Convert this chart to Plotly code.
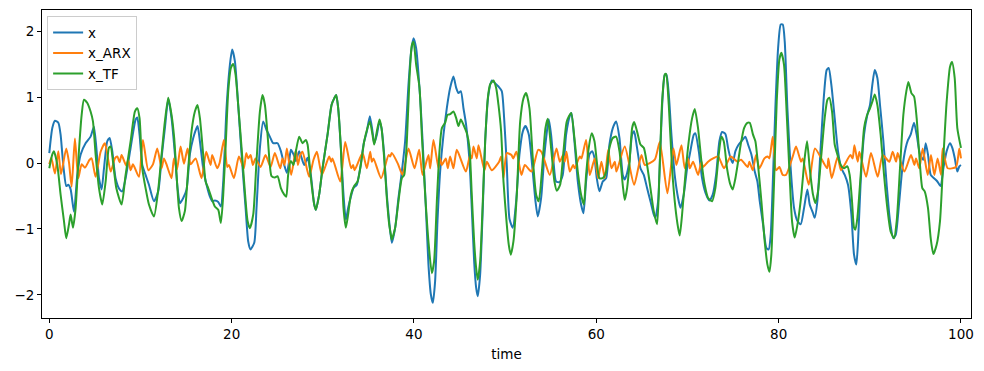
import plotly.graph_objects as go

# ---- data (time, value) ----
x_series = [
    (0, 0.15), (0.33, 0.53), (0.62, 0.64), (0.99, 0.61), (1.24, 0.43), (1.43, 0.13), (1.61, -0.13), (1.86, -0.35),
    (2.08, -0.33), (2.34, -0.4), (2.71, -0.74), (3.07, -0.18), (3.44, 0.13), (3.98, 0.3), (4.53, 0.4), (4.9, 0.55),
    (5.45, -0.23), (5.74, -0.4), (6.0, -0.08), (6.36, 0.33), (6.62, 0.38), (6.91, 0.18), (7.27, -0.23), (7.71, -0.4),
    (8.0, -0.43), (8.37, -0.23), (8.92, 0.23), (9.47, 0.66), (9.65, 0.69), (9.9, 0.43), (10.2, -0.03), (10.56, -0.18),
    (10.93, -0.33), (11.48, -0.58), (11.95, -0.43), (12.32, 0.08), (12.68, 0.53), (13.05, 0.97), (13.41, 0.68),
    (13.78, 0.13), (14.07, -0.38), (14.33, -0.61), (14.69, -0.53), (15.06, -0.4), (15.42, 0.13), (15.79, 0.38),
    (16.26, 0.56), (16.52, 0.33), (16.88, -0.08), (17.25, -0.33), (17.62, -0.51), (17.87, -0.58), (18.16, -0.57),
    (18.53, -0.59), (18.82, -0.66), (19.08, -0.28), (19.44, 0.83), (19.81, 1.49), (20.06, 1.72), (20.36, 1.54),
    (20.72, 0.88), (21.09, 0.13), (21.53, -0.68), (21.82, -1.19), (22.07, -1.31), (22.48, -1.21), (22.73, -0.68),
    (23.1, 0.23), (23.46, 0.63), (23.83, 0.5), (24.19, 0.4), (24.56, 0.3), (25.04, 0.3), (25.4, 0.18), (25.77, -0.03),
    (26.06, -0.15), (26.31, 0.03), (26.5, 0.2), (26.79, 0.13), (27.05, 0.03), (27.41, 0.18), (27.96, -0.03),
    (28.33, 0.08), (28.69, -0.18), (29.06, -0.63), (29.24, -0.71), (29.6, -0.48), (29.97, -0.08), (30.52, 0.43),
    (30.96, 0.88), (31.25, 0.98), (31.47, 1.03), (31.69, 0.83), (31.98, 0.23), (32.27, -0.48), (32.53, -0.86),
    (32.78, -0.68), (33.08, -0.51), (33.37, -0.38), (33.73, -0.33), (34.1, -0.08), (34.47, 0.28), (34.83, 0.48),
    (35.16, 0.71), (35.45, 0.48), (35.64, 0.3), (35.93, 0.43), (36.22, 0.63), (36.44, 0.53), (36.73, 0.13),
    (37.02, -0.48), (37.28, -0.88), (37.57, -1.21), (37.94, -0.98), (38.3, -0.53), (38.67, -0.13), (39.03, 0.33),
    (39.4, 1.19), (39.69, 1.69), (39.95, 1.89), (40.24, 1.74), (40.5, 1.34), (40.75, 0.83), (41.04, 0.08),
    (41.34, -0.78), (41.59, -1.54), (41.85, -1.99), (42.07, -2.12), (42.32, -1.79), (42.58, -0.88), (42.87, -0.13),
    (43.24, 0.43), (43.6, 0.83), (43.97, 1.14), (44.33, 1.31), (44.63, 1.14), (44.88, 1.06), (45.14, 1.09),
    (45.43, 0.83), (45.72, 0.58), (46.09, 0.03), (46.34, -0.68), (46.6, -1.49), (46.82, -1.89), (47.0, -2.02),
    (47.26, -1.69), (47.55, -0.68), (47.81, 0.33), (48.17, 1.04), (48.54, 1.25), (48.9, 1.21), (49.27, 1.16),
    (49.63, 1.09), (49.89, 0.68), (50.18, -0.03), (50.48, -0.85), (50.84, -0.98), (51.21, -0.58), (51.57, 0.13),
    (51.94, 0.48), (52.23, 0.56), (52.6, 0.43), (52.96, -0.03), (53.33, -0.58), (53.58, -0.81), (53.95, -0.53),
    (54.31, 0.13), (54.68, 0.58), (54.79, 0.66), (55.04, 0.43), (55.3, 0.03), (55.59, -0.28), (55.96, -0.29),
    (56.32, -0.18), (56.69, 0.43), (57.13, 0.73), (57.27, 0.76), (57.6, 0.33), (57.97, -0.28), (58.33, -0.63),
    (58.59, -0.76), (58.88, -0.28), (59.25, 0.13), (59.54, 0.18), (59.8, 0.08), (60.05, -0.23), (60.34, -0.43),
    (60.71, -0.28), (61.08, -0.23), (61.44, 0.28), (61.81, 0.53), (62.17, 0.63), (62.54, 0.38), (62.9, -0.18),
    (63.12, -0.25), (63.38, -0.15), (63.63, 0.03), (63.93, 0.43), (64.15, 0.48), (64.47, 0.23), (64.84, -0.08),
    (65.21, -0.18), (65.57, -0.38), (65.94, -0.58), (66.3, -0.78), (66.48, -0.83), (66.78, -0.58), (67.03, 0.23),
    (67.29, 1.04), (67.51, 1.34), (67.69, 1.34), (67.95, 1.04), (68.24, 0.43), (68.6, -0.18), (68.97, -0.53),
    (69.23, -0.68), (69.59, -0.48), (69.96, -0.08), (70.32, 0.18), (70.69, 0.43), (70.87, 0.45), (71.24, 0.18),
    (71.6, -0.23), (71.97, -0.45), (72.41, -0.57), (72.77, -0.48), (73.14, -0.18), (73.5, 0.33), (73.8, 0.47),
    (74.16, 0.44), (74.45, 0.23), (74.71, 0.08), (74.96, 0.0), (75.26, 0.18), (75.62, 0.28), (75.92, 0.33),
    (76.35, 0.4), (76.65, 0.28), (77.01, 0.13), (77.38, -0.13), (77.67, -0.28), (77.93, -0.58), (78.29, -0.93),
    (78.66, -1.29), (78.91, -1.31), (79.13, -1.09), (79.39, -0.18), (79.64, 0.83), (79.94, 1.74), (80.23, 2.1),
    (80.45, 2.1), (80.67, 1.84), (80.96, 0.83), (81.32, -0.08), (81.69, -0.68), (82.06, -0.88), (82.42, -0.93),
    (82.79, -0.68), (83.15, -0.4), (83.41, -0.63), (83.77, -0.76), (83.96, -0.83), (84.25, -0.58), (84.61, 0.23),
    (84.98, 1.04), (85.27, 1.41), (85.49, 1.44), (85.78, 1.19), (86.15, 0.68), (86.51, 0.18), (86.88, -0.08),
    (87.25, -0.18), (87.61, -0.33), (87.98, -0.78), (88.27, -1.39), (88.52, -1.54), (88.71, -1.19), (89.0, -0.28),
    (89.37, 0.43), (89.73, 0.73), (90.02, 0.88), (90.28, 1.19), (90.54, 1.41), (90.83, 1.29), (91.12, 0.88),
    (91.49, 0.33), (91.85, -0.33), (92.22, -0.88), (92.58, -1.14), (92.84, -1.09), (93.2, -0.63), (93.57, -0.08),
    (93.94, 0.23), (94.19, 0.35), (94.48, 0.43), (94.85, 0.61), (95.14, 0.43), (95.51, 0.13), (95.87, 0.05),
    (96.13, 0.3), (96.38, 0.13), (96.68, -0.18), (97.04, -0.23), (97.41, -0.28), (97.77, -0.35), (98.07, -0.08),
    (98.43, 0.18), (98.8, 0.3), (99.05, 0.23), (99.31, 0.08), (99.6, -0.13), (99.82, -0.05), (100.0, -0.03),
]

x_arx_series = [
    (0.0, -0.02), (0.22, 0.08), (0.62, -0.16), (0.99, 0.18), (1.28, -0.17), (1.86, 0.22), (2.16, 0.01), (2.45, -0.36),
    (2.81, 0.37), (3.18, -0.23), (3.55, -0.02), (3.91, -0.07), (4.42, 0.05), (4.64, 0.07), (5.08, -0.21), (5.63, 0.17),
    (6.1, 0.3), (6.73, -0.13), (7.2, 0.07), (7.46, 0.1), (7.71, 0.01), (7.93, 0.12), (8.44, -0.04), (8.66, 0.05),
    (8.92, -0.11), (9.18, -0.02), (9.83, -0.21), (10.27, 0.35), (10.86, -0.11), (11.37, -0.02), (11.84, 0.22),
    (12.32, -0.08), (12.57, 0.07), (12.83, -0.01), (13.41, -0.23), (13.67, 0.07), (14.0, -0.1), (14.4, 0.25),
    (14.77, -0.01), (15.17, 0.22), (15.5, -0.02), (16.05, 0.07), (16.7, -0.23), (17.21, 0.17), (17.69, -0.03),
    (17.87, 0.12), (18.42, -0.08), (18.68, 0.0), (19.15, 0.35), (19.52, -0.06), (19.7, -0.03), (20.25, -0.23),
    (20.8, 0.1), (21.34, -0.08), (21.6, 0.15), (21.82, 0.07), (22.08, 0.12), (22.33, -0.03), (22.62, 0.07),
    (23.17, -0.06), (23.72, 0.12), (24.27, -0.06), (24.74, 0.15), (25.33, -0.08), (25.58, 0.07), (25.8, -0.03),
    (26.06, 0.22), (26.53, -0.18), (27.05, 0.2), (27.27, -0.03), (27.52, 0.12), (27.78, 0.17), (28.51, -0.21),
    (28.98, 0.05), (29.35, 0.17), (29.9, -0.18), (30.7, 0.1), (30.92, 0.02), (31.07, 0.07), (31.91, -0.28),
    (32.46, 0.32), (33.11, -0.08), (33.33, -0.03), (33.48, -0.11), (34.36, 0.15), (34.83, -0.08), (35.2, 0.17),
    (35.38, 0.02), (35.56, 0.07), (36.4, -0.23), (37.21, 0.12), (37.39, 0.1), (37.57, 0.15), (38.23, -0.01),
    (38.74, -0.18), (39.4, 0.22), (40.06, -0.08), (40.57, 0.2), (40.94, -0.18), (41.59, 0.12), (41.78, -0.08),
    (42.14, 0.35), (42.69, -0.08), (42.87, 0.07), (43.05, -0.03), (43.49, 0.07), (43.71, -0.08), (43.97, 0.1),
    (44.33, -0.08), (44.7, 0.2), (45.69, -0.13), (46.16, 0.12), (46.34, 0.07), (46.53, 0.25), (46.89, 0.07),
    (47.08, 0.27), (47.73, -0.11), (47.99, 0.02), (48.54, -0.11), (49.34, 0.02), (49.56, 0.1), (49.82, -0.23),
    (50.18, 0.15), (50.7, 0.12), (50.88, 0.07), (51.24, 0.17), (51.79, -0.18), (52.16, -0.03), (52.89, -0.13),
    (53.62, 0.2), (53.98, 0.17), (54.9, -0.18), (55.63, 0.22), (56.0, 0.02), (56.36, 0.12), (56.54, 0.02),
    (56.73, 0.17), (57.09, -0.13), (57.46, -0.03), (57.64, -0.08), (58.19, 0.1), (58.37, 0.07), (58.88, 0.35),
    (59.28, -0.18), (59.83, 0.07), (60.2, -0.23), (60.56, 0.02), (60.93, -0.23), (61.3, 0.2), (61.66, -0.08),
    (62.03, 0.02), (62.21, -0.13), (63.12, 0.25), (64.15, -0.33), (64.95, 0.12), (65.32, -0.03), (66.41, 0.05),
    (66.96, 0.32), (67.8, -0.46), (68.46, 0.22), (68.79, -0.03), (69.34, 0.27), (69.7, -0.08), (70.07, 0.07),
    (70.25, -0.08), (70.62, 0.02), (71.16, -0.18), (71.53, 0.02), (71.71, -0.06), (72.26, 0.02), (72.81, 0.07),
    (73.36, 0.1), (74.01, -0.08), (74.75, 0.1), (75.48, 0.02), (75.88, 0.05), (76.61, -0.06), (76.79, 0.02),
    (77.16, -0.11), (77.52, 0.12), (77.89, -0.08), (78.44, 0.07), (78.8, 0.1), (78.99, 0.07), (79.35, 0.4),
    (79.72, -0.11), (80.08, -0.06), (80.45, -0.18), (80.81, -0.18), (81.55, 0.1), (81.91, 0.25), (82.46, 0.02),
    (82.64, 0.07), (83.3, -0.33), (83.99, 0.22), (85.31, -0.08), (85.46, 0.07), (85.82, -0.23), (86.48, 0.1),
    (86.84, -0.11), (87.87, 0.12), (88.12, 0.07), (88.31, 0.27), (88.67, 0.02), (88.86, 0.17), (89.59, -0.21),
    (90.13, 0.15), (90.87, -0.21), (91.41, 0.12), (92.14, 0.02), (92.51, 0.17), (92.88, 0.02), (93.06, 0.15),
    (93.79, -0.13), (94.52, 0.12), (94.89, -0.03), (95.07, 0.07), (95.43, -0.08), (95.8, 0.22), (96.35, -0.18),
    (96.71, 0.12), (97.08, -0.18), (97.44, 0.07), (97.81, -0.18), (97.99, 0.22), (98.54, -0.08), (99.45, -0.06),
    (99.82, 0.22), (100.0, 0.07),
]

x_tf_series = [
    (0, -0.08), (0.33, 0.13), (0.51, 0.18), (0.88, -0.03), (1.24, -0.48), (1.61, -0.88), (1.86, -1.14), (2.16, -0.93),
    (2.34, -0.78), (2.6, -0.98), (2.89, -0.68), (3.25, 0.18), (3.55, 0.73), (3.8, 0.96), (4.17, 0.91), (4.53, 0.78),
    (4.79, 0.63), (5.08, 0.13), (5.45, -0.38), (5.81, -0.63), (6.18, -0.28), (6.54, 0.23), (6.73, 0.25), (6.98, 0.03),
    (7.35, -0.38), (7.93, -0.63), (8.37, -0.18), (8.92, 0.33), (9.39, 0.78), (9.65, 0.83), (9.9, 0.68), (10.2, -0.08),
    (10.56, -0.38), (10.93, -0.63), (11.48, -0.81), (11.95, -0.4), (12.32, 0.13), (12.68, 0.63), (13.05, 0.99),
    (13.41, 0.73), (13.7, 0.38), (13.96, -0.18), (14.22, -0.68), (14.51, -0.88), (14.87, -0.73), (15.24, -0.08),
    (15.6, 0.48), (15.97, 0.78), (16.26, 0.88), (16.52, 0.68), (16.88, 0.13), (17.14, -0.28), (17.43, -0.38),
    (17.8, -0.53), (18.16, -0.66), (18.53, -0.71), (18.82, -0.91), (19.08, -0.48), (19.37, 0.33), (19.63, 1.09),
    (19.92, 1.44), (20.17, 1.5), (20.43, 1.34), (20.72, 0.88), (21.09, 0.23), (21.45, -0.43), (21.75, -0.88),
    (22.0, -0.99), (22.37, -0.78), (22.73, 0.03), (23.1, 0.78), (23.39, 1.03), (23.65, 0.88), (23.94, 0.43),
    (24.19, -0.03), (24.38, -0.2), (24.74, -0.22), (25.04, -0.2), (25.4, -0.38), (25.77, -0.48), (25.99, -0.51),
    (26.2, -0.18), (26.5, 0.03), (26.79, -0.03), (27.05, 0.18), (27.41, 0.4), (27.78, 0.3), (28.14, 0.35),
    (28.33, 0.28), (28.69, -0.23), (29.06, -0.63), (29.24, -0.71), (29.6, -0.48), (29.97, -0.08), (30.52, 0.43),
    (30.96, 0.88), (31.25, 0.98), (31.47, 1.03), (31.69, 0.83), (31.98, 0.23), (32.27, -0.68), (32.53, -0.98),
    (32.78, -0.78), (33.08, -0.48), (33.44, -0.35), (33.81, -0.28), (34.17, -0.03), (34.54, 0.33), (34.9, 0.53),
    (35.16, 0.63), (35.45, 0.43), (35.64, 0.28), (35.93, 0.48), (36.22, 0.66), (36.44, 0.53), (36.73, 0.08),
    (37.02, -0.53), (37.28, -0.93), (37.54, -1.14), (37.57, -1.16), (37.94, -0.98), (38.3, -0.58), (38.67, -0.23),
    (38.93, -0.18), (39.22, 0.33), (39.51, 1.29), (39.77, 1.79), (39.95, 1.84), (40.24, 1.49), (40.61, 1.14),
    (40.86, 0.43), (41.23, -0.48), (41.59, -1.19), (41.96, -1.67), (42.21, -1.49), (42.51, -0.58), (42.8, 0.18),
    (43.06, 0.53), (43.42, 0.61), (43.68, 0.73), (43.97, 0.74), (44.33, 0.78), (44.63, 0.68), (44.88, 0.56),
    (45.14, 0.66), (45.43, 0.58), (45.8, 0.45), (46.09, 0.23), (46.34, -0.48), (46.6, -1.19), (46.82, -1.59),
    (47.0, -1.77), (47.26, -1.49), (47.55, -0.58), (47.81, 0.33), (48.1, 0.98), (48.35, 1.19), (48.72, 1.25),
    (49.01, 1.14), (49.27, 0.88), (49.56, 0.48), (49.82, -0.28), (50.18, -0.93), (50.4, -1.24), (50.62, -1.39),
    (50.91, -1.19), (51.28, -0.48), (51.65, 0.63), (52.01, 0.98), (52.3, 1.06), (52.67, 0.83), (53.03, 0.08),
    (53.4, -0.48), (53.69, -0.58), (54.06, -0.08), (54.42, 0.53), (54.68, 0.67), (55.04, 0.23), (55.41, -0.28),
    (55.67, -0.42), (56.03, -0.33), (56.4, 0.18), (56.76, 0.63), (57.24, 0.76), (57.6, 0.38), (57.97, -0.13),
    (58.33, -0.48), (58.63, -0.63), (58.88, -0.18), (59.17, 0.23), (59.5, 0.45), (59.8, 0.33), (60.05, 0.03),
    (60.34, -0.23), (60.71, -0.23), (61.08, -0.13), (61.44, 0.23), (61.81, 0.38), (62.17, 0.4), (62.54, 0.18),
    (62.9, -0.33), (63.12, -0.56), (63.38, -0.38), (63.63, -0.03), (63.93, 0.53), (64.15, 0.62), (64.47, 0.48),
    (64.84, 0.28), (65.21, 0.23), (65.57, -0.03), (65.94, -0.38), (66.3, -0.73), (66.67, -0.93), (66.92, -0.18),
    (67.22, 0.93), (67.51, 1.34), (67.65, 1.35), (67.95, 0.88), (68.31, -0.08), (68.68, -0.68), (68.97, -0.98),
    (69.15, -1.1), (69.41, -0.78), (69.77, -0.18), (70.14, 0.33), (70.51, 0.68), (70.8, 0.82), (71.16, 0.53),
    (71.53, 0.03), (71.89, -0.33), (72.26, -0.53), (72.7, -0.58), (73.06, -0.38), (73.43, 0.13), (73.72, 0.4),
    (73.98, 0.33), (74.34, -0.08), (74.71, -0.33), (74.96, -0.4), (75.26, -0.23), (75.62, 0.08), (75.84, 0.28),
    (76.21, 0.53), (76.57, 0.61), (76.83, 0.61), (77.19, 0.43), (77.45, 0.33), (77.74, -0.03), (78.11, -0.58),
    (78.47, -1.19), (78.77, -1.54), (78.99, -1.65), (79.2, -1.39), (79.5, -0.28), (79.79, 0.93), (80.08, 1.57),
    (80.3, 1.67), (80.59, 1.49), (80.89, 0.73), (81.22, -0.23), (81.47, -0.88), (81.76, -1.13), (82.13, -0.88),
    (82.49, -0.48), (82.86, 0.08), (83.12, 0.33), (83.41, -0.08), (83.77, -0.48), (84.03, -0.61), (84.32, -0.43),
    (84.69, 0.13), (85.05, 0.68), (85.35, 0.96), (85.56, 0.99), (85.86, 0.78), (86.15, 0.28), (86.44, 0.13),
    (86.81, -0.03), (87.17, -0.08), (87.54, -0.05), (87.79, -0.18), (88.05, -0.58), (88.27, -0.98), (88.42, -1.01),
    (88.64, -0.83), (89.0, -0.18), (89.37, 0.53), (89.66, 0.71), (90.02, 0.83), (90.28, 0.93), (90.54, 1.04),
    (90.83, 0.88), (91.19, 0.43), (91.56, -0.18), (91.92, -0.68), (92.29, -1.04), (92.66, -1.14), (92.95, -0.88),
    (93.31, -0.08), (93.68, 0.73), (94.01, 1.09), (94.23, 1.23), (94.56, 1.06), (94.85, 1.01), (95.14, 0.68),
    (95.4, 0.18), (95.76, -0.38), (96.02, -0.43), (96.38, -0.68), (96.68, -1.14), (96.97, -1.38), (97.33, -1.24),
    (97.7, -0.88), (98.07, 0.08), (98.43, 0.93), (98.8, 1.46), (99.02, 1.53), (99.31, 1.29), (99.6, 0.53),
    (100.0, 0.23),
]

x_ticks = [0, 20, 40, 60, 80, 100]
y_ticks = [-2, -1, 0, 1, 2]

series = [
    ("x", x_series, "#1f77b4"),
    ("x_ARX", x_arx_series, "#ff7f0e"),
    ("x_TF", x_tf_series, "#2ca02c"),
]

FONT = "DejaVu Sans, Arial, sans-serif"

fig = go.Figure()
for name, pts, color in series:
    fig.add_trace(go.Scatter(
        x=[p[0] for p in pts], y=[p[1] for p in pts], name=name, mode="lines",
        line=dict(color=color, width=2, shape="spline", smoothing=0.6),
    ))

axis_common = dict(
    showline=True, linecolor="black", linewidth=1, mirror=True,
    ticks="outside", ticklen=4, tickwidth=1, tickcolor="black",
    showgrid=False, zeroline=False,
    tickfont=dict(family=FONT, size=13.5, color="black"),
)

# the page body adds an 8px offset; the figure is sized to compensate
fig.update_layout(
    width=976, height=363,
    margin=dict(l=34, r=13, t=2, b=53),
    paper_bgcolor="white", plot_bgcolor="white",
    font=dict(family=FONT, size=13.5, color="black"),
    xaxis=dict(range=[-0.8, 101.1], tickvals=x_ticks,
               title=dict(text="time", font=dict(family=FONT, size=13.5, color="black"), standoff=8),
               **axis_common),
    yaxis=dict(range=[-2.35, 2.32], tickvals=y_ticks, **axis_common),
    legend=dict(x=0.0055, y=0.98, xanchor="left", yanchor="top",
                bgcolor="rgba(255,255,255,0.8)", bordercolor="#cccccc", borderwidth=1,
                font=dict(family=FONT, size=13.5, color="black"), itemwidth=30),
    showlegend=True,
)

fig.write_html("out.html")
